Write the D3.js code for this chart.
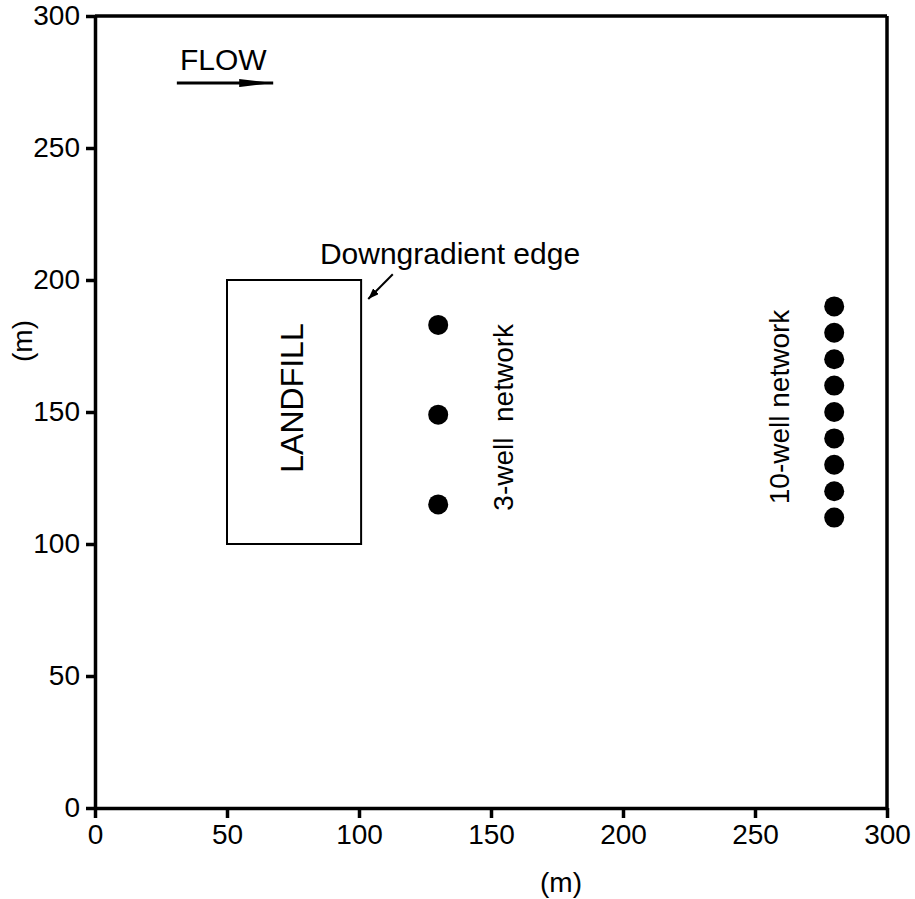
<!DOCTYPE html>
<html>
<head>
<meta charset="utf-8">
<script src="https://cdnjs.cloudflare.com/ajax/libs/d3/7.8.5/d3.min.js"></script>
<style>
  body { margin: 0; background: #fff; }
  svg { display: block; }
  text { font-family: "Liberation Sans", Arial, sans-serif; }
</style>
</head>
<body>
<div id="chart"></div>
<script>
// tick values
var xTicks = [0, 50, 100, 150, 200, 250, 300];
var yTicks = [0, 50, 100, 150, 200, 250, 300];

// landfill footprint [x0, x1, y0, y1]
var landfill = [50, 100.8, 100, 200];

// monitoring wells
var wells3X = [130, 130, 130];
var wells3Y = [115, 149, 183];
var wells10X = [280, 280, 280, 280, 280, 280, 280, 280, 280];
var wells10Y = [110, 120, 130, 140, 150, 160, 170, 180, 190];

// flow arrow [x0, x1, y]
var flowArrow = [31, 67.5, 274.6];
// downgradient pointer [xTail, yTail, xTip, yTip]
var edgeArrow = [112.8, 202.2, 103.5, 192.8];

var svgWidth = 915;
var svgHeight = 899;
var margin = { top: 16, right: 28, bottom: 91, left: 95 };
var chartWidth = svgWidth - margin.left - margin.right;
var chartHeight = svgHeight - margin.top - margin.bottom;

var svg = d3.select("#chart")
    .append("svg")
    .attr("width", svgWidth)
    .attr("height", svgHeight);

var defs = svg.append("defs");
defs.append("marker")
    .attr("id", "flowHead")
    .attr("viewBox", "0 0 34 8")
    .attr("refX", 34).attr("refY", 4)
    .attr("markerUnits", "userSpaceOnUse")
    .attr("markerWidth", 34).attr("markerHeight", 8)
    .attr("orient", "auto")
    .append("path").attr("d", "M0,0 L34,4 L0,8 Z").attr("fill", "#000");
defs.append("marker")
    .attr("id", "edgeHead")
    .attr("viewBox", "0 0 11 8")
    .attr("refX", 11).attr("refY", 4)
    .attr("markerUnits", "userSpaceOnUse")
    .attr("markerWidth", 11).attr("markerHeight", 8)
    .attr("orient", "auto")
    .append("path").attr("d", "M0,0 L11,4 L0,8 Z").attr("fill", "#000");

var chartGroup = svg.append("g")
    .attr("transform", `translate(${margin.left}, ${margin.top})`);

var x = d3.scaleLinear().domain([0, 300]).range([0, chartWidth]);
var y = d3.scaleLinear().domain([0, 300]).range([chartHeight, 0]);

// axes
var bottomAxis = d3.axisBottom(x).tickValues(xTicks).tickSize(10).tickSizeOuter(0).tickPadding(6);
var leftAxis = d3.axisLeft(y).tickValues(yTicks).tickSize(9).tickSizeOuter(0).tickPadding(6);

var xAxisG = chartGroup.append("g")
    .attr("transform", `translate(0, ${chartHeight})`)
    .call(bottomAxis);
var yAxisG = chartGroup.append("g").call(leftAxis);

[xAxisG, yAxisG].forEach(function(g) {
    g.select(".domain").attr("stroke-width", 3.5);
    g.selectAll(".tick line").attr("stroke-width", 3.5);
    g.selectAll(".tick text")
        .attr("font-size", 28)
        .attr("font-family", "'Liberation Sans', Arial, sans-serif")
        .attr("fill", "#000");
});

// top and right frame
chartGroup.append("line")
    .attr("x1", x(0)).attr("x2", x(300)).attr("y1", y(300)).attr("y2", y(300))
    .attr("stroke", "#000").attr("stroke-width", 3.5);
chartGroup.append("line")
    .attr("x1", x(300)).attr("x2", x(300)).attr("y1", y(0)).attr("y2", y(300))
    .attr("stroke", "#000").attr("stroke-width", 3.5);

// axis titles
svg.append("text")
    .attr("x", 561).attr("y", 892)
    .attr("text-anchor", "middle")
    .attr("font-size", 28)
    .text("(m)");
svg.append("text")
    .attr("transform", "translate(32, 341) rotate(-90)")
    .attr("text-anchor", "middle")
    .attr("font-size", 28)
    .text("(m)");

// landfill box
chartGroup.append("rect")
    .attr("x", x(landfill[0]))
    .attr("y", y(landfill[3]))
    .attr("width", x(landfill[1]) - x(landfill[0]))
    .attr("height", y(landfill[2]) - y(landfill[3]))
    .attr("fill", "none")
    .attr("stroke", "#000")
    .attr("stroke-width", 2);

chartGroup.append("text")
    .attr("transform", `translate(${x(78.8)}, ${y(155.3)}) rotate(-90)`)
    .attr("text-anchor", "middle")
    .attr("font-size", 32)
    .text("LANDFILL");

// wells
var wells3 = wells3X.map(function(d, i) { return { x: d, y: wells3Y[i] }; });
var wells10 = wells10X.map(function(d, i) { return { x: d, y: wells10Y[i] }; });

chartGroup.selectAll("circle.w3")
    .data(wells3)
    .enter()
    .append("circle")
    .attr("class", "w3")
    .attr("cx", d => x(d.x))
    .attr("cy", d => y(d.y))
    .attr("r", 10)
    .attr("fill", "#000");

chartGroup.selectAll("circle.w10")
    .data(wells10)
    .enter()
    .append("circle")
    .attr("class", "w10")
    .attr("cx", d => x(d.x))
    .attr("cy", d => y(d.y))
    .attr("r", 10)
    .attr("fill", "#000");

chartGroup.append("text")
    .attr("transform", `translate(${x(158.3)}, ${y(148)}) rotate(-90)`)
    .attr("text-anchor", "middle")
    .attr("font-size", 28)
    .style("white-space", "pre")
    .text("3-well  network");

chartGroup.append("text")
    .attr("transform", `translate(${x(262.9)}, ${y(151.9)}) rotate(-90)`)
    .attr("text-anchor", "middle")
    .attr("font-size", 28)
    .text("10-well network");

// flow label and arrow
chartGroup.append("text")
    .attr("x", x(32.2)).attr("y", y(279.5))
    .attr("font-size", 30)
    .text("FLOW");
chartGroup.append("line")
    .attr("x1", x(flowArrow[0])).attr("x2", x(flowArrow[1]))
    .attr("y1", y(flowArrow[2])).attr("y2", y(flowArrow[2]))
    .attr("stroke", "#000").attr("stroke-width", 3)
    .attr("marker-end", "url(#flowHead)");

// downgradient edge label and pointer
chartGroup.append("text")
    .attr("x", x(85.2)).attr("y", y(206))
    .attr("font-size", 30)
    .text("Downgradient edge");
chartGroup.append("line")
    .attr("x1", x(edgeArrow[0])).attr("y1", y(edgeArrow[1]))
    .attr("x2", x(edgeArrow[2])).attr("y2", y(edgeArrow[3]))
    .attr("stroke", "#000").attr("stroke-width", 2)
    .attr("marker-end", "url(#edgeHead)");
</script>
</body>
</html>
